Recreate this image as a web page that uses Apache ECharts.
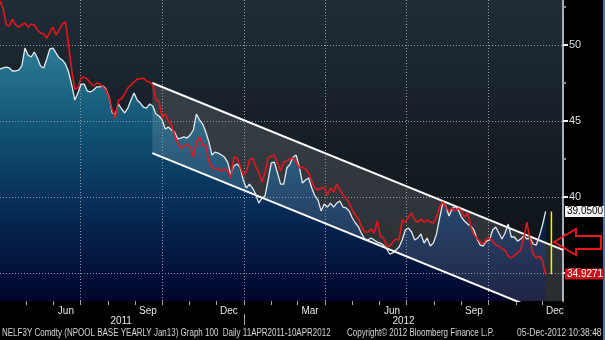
<!DOCTYPE html>
<html><head><meta charset="utf-8">
<script src="https://cdn.jsdelivr.net/npm/echarts@6/dist/echarts.min.js"></script>
<style>html,body{margin:0;padding:0;background:#000;overflow:hidden}#c{width:605px;height:340px}</style>
</head><body><div id="c"></div>
<script>
// ---- data ----
const startDate = '2011-04-02';
const stepDays = 3.5;
const axisStart = '2011-04-02';
const axisEnd = '2012-12-24';

const whiteVals = [
48.42,48.49,48.55,48.49,48.29,48.29,48.35,48.62,49.80,49.34,
49.21,49.54,49.14,48.62,48.49,49.08,49.74,49.80,49.47,49.14,
49.01,48.75,48.22,47.37,46.38,46.84,47.43,47.43,46.97,46.91,
47.04,47.24,47.24,47.30,47.10,46.58,45.53,45.46,46.12,45.79,
45.53,45.85,46.38,46.84,46.38,46.18,45.92,45.85,46.12,45.99,
45.46,45.33,45.07,44.47,44.60,44.41,44.28,43.82,43.88,43.95,
43.88,44.08,44.41,45.46,45.07,44.80,44.28,43.62,42.76,42.96,
42.89,42.76,42.63,42.30,41.51,42.04,42.17,41.97,41.12,40.59,
40.85,40.59,40.20,39.60,39.93,40.07,41.12,42.24,42.30,41.58,
40.85,40.85,41.91,42.17,42.63,42.76,41.97,40.92,41.12,41.25,
40.59,40.07,39.80,39.08,39.54,39.34,39.60,39.34,39.60,39.74,
39.34,39.28,39.08,38.62,38.29,38.03,37.57,37.24,37.17,37.30,
37.17,37.04,36.97,36.84,36.58,36.25,36.32,36.51,36.71,37.17,
37.83,37.96,37.70,37.17,37.30,37.57,36.97,37.30,36.78,36.97,
37.57,38.62,39.60,39.41,38.75,39.21,39.41,39.14,38.68,38.42,
38.22,38.09,37.83,37.24,36.84,36.78,37.10,37.17,37.83,38.03,
37.63,37.24,37.63,38.22,37.37,37.37,37.10,37.24,37.43,37.24,
37.30,36.91,36.84,37.43,38.16,39.05];

const redVals = [
52.89,52.43,51.32,51.25,51.71,51.32,51.18,51.32,51.45,51.18,
51.38,51.32,50.99,50.79,50.72,50.46,50.85,51.18,50.66,50.99,
51.38,51.51,50.00,48.35,47.10,47.17,47.83,47.89,47.76,47.50,
47.30,47.50,47.43,47.24,47.04,46.51,45.72,45.20,46.38,46.45,
46.78,47.17,47.37,47.57,47.76,47.76,47.83,47.63,47.57,47.37,
46.38,46.32,45.26,45.46,45.00,44.74,44.08,43.55,43.22,43.35,
43.49,43.29,42.63,43.62,43.95,43.42,43.42,42.37,41.97,41.84,
41.84,41.71,41.84,41.71,41.25,42.63,42.57,42.04,41.45,41.64,
42.43,42.57,42.01,41.64,40.99,41.58,42.57,42.70,42.76,42.24,
41.71,42.30,42.37,42.50,42.57,42.30,41.91,41.97,41.84,41.58,
41.05,40.59,40.46,40.59,40.59,40.13,40.59,40.33,40.85,40.46,
40.13,39.93,39.60,39.14,38.82,38.55,38.03,37.70,37.70,37.89,
37.63,38.42,37.43,37.30,36.78,36.78,37.04,37.24,37.17,38.49,
38.35,38.68,38.95,38.49,38.35,38.55,38.35,38.49,38.35,38.29,
38.68,39.34,39.67,39.34,39.08,39.28,39.08,39.28,39.08,38.68,
38.95,38.03,37.50,37.30,37.04,36.91,37.24,37.30,37.10,36.84,
36.78,36.58,36.51,36.12,35.99,36.18,36.32,36.51,37.30,38.35,
37.17,36.25,35.99,36.12,35.79,34.9271];

const monthTickDates = ['2011-05-01','2011-06-01','2011-07-01','2011-08-01','2011-09-01','2011-10-01','2011-11-01','2011-12-01',
  '2012-01-01','2012-02-01','2012-03-01','2012-04-01','2012-05-01','2012-06-01','2012-07-01','2012-08-01','2012-09-01','2012-10-01','2012-11-01','2012-12-01'];
const monthLabelDates = ['2011-06-15','2011-09-15','2011-12-15','2012-03-15','2012-06-15','2012-09-15','2012-12-15'];
const monthLabels = ['Jun','Sep','Dec','Mar','Jun','Sep','Dec'];
const yearLabelDates = ['2011-08-16','2012-06-28'];
const yearLabels = ['2011','2012'];
const yearBreakDates = ['2012-01-01'];
const gridDates = ['2011-07-01','2011-10-01','2012-01-01','2012-04-01','2012-07-01','2012-10-01'];
const yTicks = [35,40,45,50];
const yMinorTicks = [37.5,42.5,47.5,52.5];
const yMin = 33.16, yMax = 52.96;
const channelDates = ['2011-09-20','2012-12-24'];
const channelUpper = [47.50, 36.52];
const channelLower = [42.89, 31.91];
const spreadDate = '2012-12-11';
const footerLeft = 'NELF3Y Comdty (NPOOL BASE YEARLY Jan13) Graph 100  Daily 11APR2011-10APR2012';
const footerMid = 'Copyright\u00a9 2012 Bloomberg Finance L.P.';
const footerRight = '05-Dec-2012 10:38:48';

// ---- build ----
const D = s => { const p = s.split('-').map(Number); return new Date(p[0], p[1]-1, p[2]).getTime(); };
const t0 = D(startDate);
const dates = whiteVals.map((_, i) => t0 + i * stepDays * 86400000);
const whitePairs = dates.map((t, i) => [t, whiteVals[i]]);
const redPairs = dates.map((t, i) => [t, redVals[i]]);
const whiteLast = whiteVals[whiteVals.length - 1];
const redLast = redVals[redVals.length - 1];
const monthMap = {}; monthLabelDates.forEach((s, i) => monthMap[D(s)] = monthLabels[i]);
const yearMap = {}; yearLabelDates.forEach((s, i) => yearMap[D(s)] = yearLabels[i]);
const font = '"Liberation Sans",Arial,sans-serif';
const chT = channelDates.map(D);

const chart = echarts.init(document.getElementById('c'), null, {width: 605, height: 340});
const areaGrad = new echarts.graphic.LinearGradient(0, 0, 0, 301, [
  {offset: 0.12, color: '#2f8199'}, {offset: 0.42, color: '#125574'},
  {offset: 0.66, color: '#07305a'}, {offset: 1, color: '#01042c'}], true);
const clear = {width: 0, color: 'rgba(0,0,0,0)'};

const option = {
  backgroundColor: '#000',
  animation: false,
  grid: {left: 0, right: 42, top: 0, bottom: 39, show: true, borderWidth: 0,
    backgroundColor: new echarts.graphic.LinearGradient(0, 0, 0, 1, [
      {offset: 0, color: '#202c36'}, {offset: 1, color: '#0a0e12'}])},
  xAxis: [
    {type: 'value', min: D(axisStart), max: D(axisEnd), axisLine: {show: false}, splitLine: {show: false},
     axisTick: {show: true, customValues: monthTickDates.map(D), length: 4, lineStyle: {color: '#a8a8a8'}},
     axisLabel: {customValues: monthLabelDates.map(D), formatter: v => monthMap[v] || '',
       color: '#e6e6e6', fontSize: 10, margin: 5, fontFamily: font}},
    {type: 'value', min: D(axisStart), max: D(axisEnd), position: 'bottom', offset: 13,
     axisLine: {show: false}, splitLine: {show: false},
     axisTick: {show: true, customValues: yearBreakDates.map(D), length: 11, lineStyle: {color: '#a8a8a8'}},
     axisLabel: {customValues: yearLabelDates.map(D), formatter: v => yearMap[v] || '',
       color: '#e6e6e6', fontSize: 10, margin: 2, fontFamily: font}}
  ],
  yAxis: [
    {type: 'value', position: 'right', min: yMin, max: yMax, splitNumber: 4,
     axisLine: {show: true, lineStyle: {color: '#a9b0b6', width: 2}},
     axisTick: {show: true, customValues: yTicks, length: 5, lineStyle: {color: '#f4f4f4', width: 2}},
     axisLabel: {customValues: yTicks, color: '#d8dee3', fontSize: 11, margin: 6, fontFamily: font},
     splitLine: {show: false}},
    {type: 'value', position: 'right', min: yMin, max: yMax, splitNumber: 4,
     axisLine: {show: false}, axisLabel: {show: false}, splitLine: {show: false},
     axisTick: {show: true, customValues: yMinorTicks, length: 3, lineStyle: {color: '#8d959c', width: 2}}}
  ],
  series: [
    {name: 'area', type: 'line', data: whitePairs, symbol: 'none', silent: true, z: 2,
     lineStyle: clear, areaStyle: {color: areaGrad, opacity: 1}},
    {name: 'channelFill', type: 'custom', silent: true, z: 3,
     data: [[chT[0], channelUpper[0]]],
     renderItem: (params, api) => {
       const a = api.coord([chT[0], channelUpper[0]]);
       const b = api.coord([chT[1], channelUpper[1]]);
       const c = api.coord([chT[1], channelLower[1]]);
       const d = api.coord([chT[0], channelLower[0]]);
       const cs = params.coordSys;
       return {type: 'polygon', shape: {points: [a, b, c, d]},
         style: {fill: 'rgba(255,255,255,0.13)'},
         clipPath: {type: 'rect', shape: {x: cs.x, y: cs.y, width: cs.width, height: cs.height}}};
     }},
    {name: 'grid', type: 'line', data: whitePairs, symbol: 'none', silent: true, z: 4,
     lineStyle: clear,
     markLine: {silent: true, z: 4, symbol: ['none', 'none'], label: {show: false},
       lineStyle: {color: '#8e9ba6', type: [1, 2], width: 1},
       emphasis: {disabled: true},
       data: gridDates.map(g => ({xAxis: D(g)})).concat(yTicks.map(v => ({yAxis: v})))}},
    {name: 'chUp', type: 'line', data: [[chT[0], channelUpper[0]], [chT[1], channelUpper[1]]],
     symbol: 'none', silent: true, z: 5, lineStyle: {color: '#ffffff', width: 2}},
    {name: 'chLo', type: 'line', data: [[chT[0], channelLower[0]], [chT[1], channelLower[1]]],
     symbol: 'none', silent: true, z: 5, lineStyle: {color: '#ffffff', width: 2}},
    {name: 'white', type: 'line', data: whitePairs, symbol: 'none', silent: true, z: 6,
     lineStyle: {color: '#e2e9ee', width: 1.3},
     markLine: {silent: true, z: 9, symbol: ['none', 'none'], lineStyle: clear,
       label: {show: true, position: 'end', distance: 2, formatter: whiteLast.toFixed(4),
         backgroundColor: '#f4f4f4', color: '#000', fontSize: 10, fontFamily: font, padding: [1, 1, 0, 2]},
       data: [{yAxis: whiteLast}]}},
    {name: 'red', type: 'line', data: redPairs, symbol: 'none', silent: true, z: 7,
     lineStyle: {color: '#e3171c', width: 1.6},
     markLine: {silent: true, z: 9, symbol: ['none', 'none'], lineStyle: clear,
       label: {show: true, position: 'end', distance: 2, formatter: redLast.toFixed(4),
         backgroundColor: '#c8141a', color: '#fff', fontSize: 10, fontFamily: font, padding: [1, 1, 0, 2]},
       data: [{yAxis: redLast}]}},
    {name: 'spread', type: 'line', data: [[D(spreadDate), whiteLast], [D(spreadDate), redLast]],
     symbol: 'none', silent: true, z: 8, lineStyle: {color: '#fff200', width: 1.5}}
  ],
  graphic: [
    {type: 'polygon', z: 100, silent: true,
     shape: {points: [[554, 242], [576, 229], [576, 236], [601, 236], [601, 249], [576, 249], [576, 255]]},
     style: {fill: 'none', stroke: '#e8161c', lineWidth: 2}},
    {type: 'text', x: 2, y: 328, scaleX: 0.8, silent: true,
     style: {text: footerLeft, fill: '#d4d4d4', font: '10px ' + font}},
    {type: 'text', x: 347, y: 328, scaleX: 0.8, silent: true,
     style: {text: footerMid, fill: '#d4d4d4', font: '10px ' + font}},
    {type: 'text', x: 517, y: 328, scaleX: 0.85, silent: true,
     style: {text: footerRight, fill: '#d4d4d4', font: '10px ' + font}},
    {type: 'rect', right: 0, top: 0, silent: true, shape: {width: 2, height: 340}, style: {fill: '#3f79b8'}}
  ]
};
chart.setOption(option);
</script></body></html>
